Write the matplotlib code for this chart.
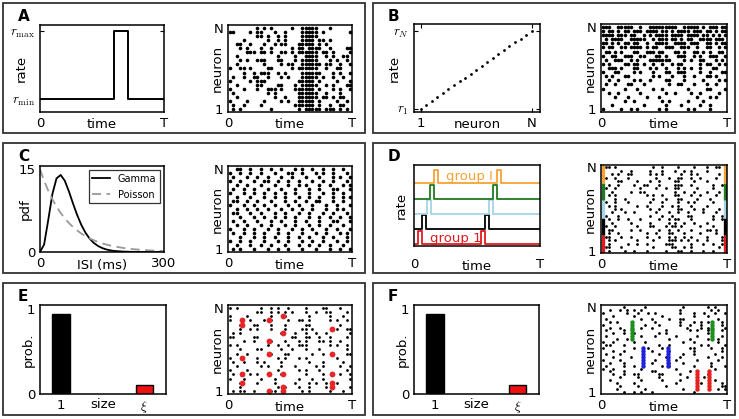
import matplotlib
matplotlib.use('Agg')
import matplotlib.pyplot as plt
from matplotlib.patches import Rectangle
from matplotlib.transforms import ScaledTranslation

plt.rcParams['mathtext.fontset'] = 'cm'
plt.rcParams['font.family'] = 'DejaVu Sans'
plt.rcParams['font.size'] = 9.5
plt.rcParams['axes.linewidth'] = 1.1

# ---- data ----
# A: rate profile with one pulse
a_time = [0.0, 0.595, 0.595, 0.707, 0.707, 1.0]
a_rate = [0.0, 0.0, 1.0, 1.0, 0.0, 0.0]
a_raster = [
    "........o.o.o.....o..ooooo...o......",
    "oo....o.oo...o..o....ooooo.o.......o",
    "........oo.o..o.o....ooooo..........",
    "....o......o..o.o....oooo.oo.o......",
    "..oo..o...o..o.oo...ooooo.o.o.......",
    "...o.o...o..o.....o.oo.oooo..o....oo",
    ".....ooo.oo.o..oo.o.oooooo.oo.o....o",
    "..o...........o....o..oooo..o.o..oo.",
    "...o.o..ooo...oo...o.ooooo...o.o..o.",
    "..o.......o....o.oo..oooooo.oo..o..o",
    "o..oo.o....oo.....o.oooooo..o..oo...",
    "....o..o.ooo..o.o....oooooo...o.o..o",
    ".o..o..oo..o...o.o...ooooo.o..o..o..",
    "o.....o.ooo.........ooooo.o....o...o",
    "..o.....oo....oo...o.ooooo..o.o...oo",
    "o...o...o..ooo.o...oooooo.o...o.o..o",
    ".o.........o.o......oooooo..o...o...",
    "..o..........o..o...oooooo.oo.o.oo..",
    "o....o....o....o.o..ooooo.o....o..o.",
    ".o..o....o.........oooooo.o..o..oo..",
    ".o.o........o.......o.ooooo.ooo.o.o.",
]

# B: rate grows with neuron index
b_neuron = [1, 2, 3, 4, 5, 6, 7, 8, 9, 10, 11, 12, 13, 14, 15, 16, 17, 18, 19, 20, 21]
b_rate = [1, 2, 3, 4, 5, 6, 7, 8, 9, 10, 11, 12, 13, 14, 15, 16, 17, 18, 19, 20, 21]
b_raster = [
    "ooo..ooooo..o..ooooooooo..ooooo.o.ooo.oo",
    "o.oo.o.oo.ooo.oooo.oo.o.oooo.ooo.oo.o.oo",
    "oooo.ooo.oo..o.o.oooo.oooo.oooo.oo.o.o.o",
    ".o.oooo..ooooo..o.ooo.oo.o.oo..oooo.ooo.",
    "oo.o.o.oo.oo..o..oooo..oooo.ooo..oo.o.oo",
    "o.oo..oo.oooo.o.oo..ooo..ooo..o..oo..o.o",
    ".oo.o.o...oo..ooo.oo...oo.o..oo.o.o..oo.",
    "o..oo..ooo..oo...oo.o...ooo..o.o..ooo..o",
    ".o..ooo..o.o...ooooooo....o.o..oo...o.o.",
    "o.o....oo.oo.o..o..o..o.oo.....o.oo..o.o",
    "..ooo.o...oo...o.o..o...o.o.o..o...oo...",
    "o...oo....o.o...o...oo..ooo....o..o...oo",
    ".o.o...oo.......o.o...o...o..o...oo.o...",
    "..o..o....o.o..o....oo....o.....o....o.o",
    ".o..o...oo...o.......o..oo...o...o..o...",
    "o......o...o....o..o.......o.....oo....o",
    "..o..o......o.......o..o....o..o.....o..",
    "....o...o.....o...o...........o...o.o...",
    ".......o..o........o.o.....o....o.......",
    "...o.........o......o....o.....o..o.....",
    "o.....o..o.o......o.o......o.o....o.....",
]

# C: ISI distributions (pdf x 1e-3)
c_isi = [0, 10, 20, 30, 40, 50, 60, 70, 80, 90, 100, 110, 120, 130, 140, 150,
         160, 170, 180, 200, 220, 250, 300]
c_gamma = [0.0, 1.36, 5.83, 10.53, 13.36, 13.97, 12.92, 10.98, 8.77, 6.69, 4.91,
           3.50, 2.43, 1.65, 1.11, 0.73, 0.47, 0.30, 0.19, 0.08, 0.03, 0.01, 0.0]
c_poisson = [15.0, 12.91, 11.11, 9.56, 8.23, 7.09, 6.10, 5.25, 4.52, 3.89, 3.35,
             2.88, 2.48, 2.14, 1.84, 1.58, 1.36, 1.17, 1.01, 0.75, 0.55, 0.35, 0.17]
c_raster = [
    "..oo..o..o..o..o...o.o..o..o..o..o..",
    "o..o..o..o...o...oo..o...o.o..o...o.",
    ".o...o..o..o...o..o...o...o...o.o..o",
    "o..o...o..oo..o..o..o...o..o..o...o.",
    "..o..o...o...o...o..o.o...o..o...o.o",
    ".o..o..o...o...o...o...o..o...oo...o",
    "o...o..o..o..o..o..o...o...o..o..o..",
    "..o...o...o..o..o...o..o..o...o..o.o",
    ".oo..o..o...o...o..o..o..oo...o..o..",
    "o...o..o..o..o...o..o...o...o..o...o",
    "..o..o..o..o...o..o..o..o...o..o.o..",
    ".oo...o..o...o..o...o..o...o..o...o.",
    "...o...o..o..o..o..o...o..o..o..o..o",
    ".o..o...o...o..o...o..o...o...oo...o",
    "..o..o...o..o...o..o...o..o..o...o..",
    "o...o..o...o..o...o..o..o...o..o...o",
    ".o..o..o..o...o..o...o...o..o...o.o.",
    "...o...o..o..o...o..o..o...o..o...o.",
    "o..o..o...o...o..o...o..o..o...o..o.",
    "..o...o..o..o...o...o..o..o..o...o..",
    ".o.o...o...o..o..o...o...o...o..o..o",
]

# D: groups with sequential pulses (group 1 at bottom)
d_colors = ['#e3191c', 'black', '#a6d3e6', '#1e7b1e', '#f7a234']
d_onsets = [[0.034, 0.530], [0.066, 0.562], [0.100, 0.597], [0.127, 0.624], [0.159, 0.658]]
d_width = 0.032
d_height = 0.9
d_raster = [
    ".oo.o...........o..o....o....o...o..oo..",
    "......o..o.....o...o...o..o.o....o......",
    "...o.o..oo.....o.o.o.....o..o.o......o..",
    ".o..o...o........o...o..oo..o..o....o...",
    "o....oo....o...o..o....oo....o...o......",
    "..o..o....o..oo...o....ooo..o......o..o.",
    ".o..o.......o....o..o..oo.....o....o....",
    "...o.....o..oo.........o..o..o...o...o..",
    "o.o.o.........o.o..o...oo...o..o....o..o",
    "....o..o........o...o...oo....o...o.....",
    ".o..o...o......o...o....o..o.o.....o...o",
    "..o.o......o..o....o..o.o...o....o.....o",
    "o...o.o........o..o.....oo...o..o....o..",
    "...o...o..o......o...o..o..o....o...o...",
    ".o...o.........o...o..o....oo......o..o.",
    "..o..o..o...o.....o..o.oo...o......o..o.",
    "o..o.....o.....o.....o.o..o..o...o......",
    ".o..o......o...oo...o.oo.o.....o...o....",
    "..oo.....o..o.....o..o..o...o....oo.o...",
    "o.o..o........o..o...oo...o....o....o..o",
    ".oo...o..o....o...o..o.o..o.o....o....o.",
    "..o.o......o....o....ooo.o.o..o..o....o.",
    "o.o.....o..o..o.....ooo.....o...o..o..o.",
    ".oo...o.........o.....oo..o.o........o..",
    "..o....o..o...o.....o...oo..o...o..o...o",
]

# E / F: pattern size distribution
size_labels = ['1', r'$\xi$']
e_prob = [0.94, 0.106]
f_prob = [0.94, 0.106]
e_raster = [
    "o.o......o..o.o..o....o....oo...o...",
    "........oo..o.o.o.o...o..o..oo....o.",
    "o....o......o...o......o.....o...o..",
    "o.....o...o.o....o..oo.o.....o.o..o.",
    "...o...oo...o...o.....oo........o...",
    "...o..o.o...o...o....oo.o......o..oo",
    ".o.o...........o...o..o..o..o......o",
    "oo.....oo.........oo..oo..o..o....o.",
    "....o..o....o...o...o.o...oo.o..o...",
    "o.o........o..o..o..ooo......o.o..o.",
    "...o....oo.....o..o...o...o.......o.",
    "..o..o......o...oo......o..o......oo",
    "o.......o.....o.o...o.o........o....",
    ".o..o...o.o....o.......o...o.....o..",
    "..o......o.o...o...o.....o.o....o..o",
    "o....o........o.....o.o...o.......o.",
    ".o....o.o..o...o......o....o....o..o",
    "o...o....o...o......o...o..o.......o",
    "...o....o....o.....o...o.o..o..o....",
    "...o..........o.o...o..o....o......o",
    ".o.oo..o....oo.......o.o.....o...o..",
]
# synchronous events: time (column units) and rows (counted from top)
e_event_times = [4.2, 11.9, 16.1, 30.1]
e_event_rows = [[3, 4, 12, 16, 18], [3, 8, 11, 16, 20], [2, 6, 16, 19, 20], [5, 11, 16, 18, 19]]

f_raster = [
    "......o.....o..........o......o.o...",
    "..o..o.o.o.o..........o........o.o..",
    "o......o..o..o.o......o...o..o..o..o",
    "...o.....o.......o........o...o.....",
    ".o.........o..o....o..oo.........o..",
    "..o.o..........o......o...o.o.o...o.",
    "o...........o...o.....o..o..o.....o.",
    "..o..o.....o..o.........o...o.o....o",
    ".o....o...........o......o.o..o...o.",
    "...o..o..o......o.o...........o.....",
    ".o.........o...o.....o.....o......o.",
    "....o..o...........o.....o....o..o..",
    "o..o.....o..o..........o..o......o..",
    ".oo...o.........o..o........o.o....o",
    "o........o...o...o.......oo....o..o.",
    "...o..o.......o....o......o.......o.",
    ".o...o..........o......o..o.....o...",
    "...o....o.........o...o.......o...o.",
    "o....o.........o.....o.....o.....o..",
    "..o...o.......o....o...o.......o....",
    ".o....o..o.......o.o......o....o...o",
    "o..o.......o.........o..........o...",
    "..o...o.......oo.........o..........",
    "...o..o..oo.....oo....o.......o.....",
    ".....o....o.....o.......o....o......",
    "..o........o.....o....o.........o...",
    "....o....o...........o......o.....o.",
    ".....o....o.......o...............oo",
    "....o.......o..........o.........o.o",
    "......o..o.o..o...........o.........",
]
f_group_colors = ['#1f8f1f', '#2020dd', '#e82020']
f_group_times = [[8.9, 31.7], [12.0, 19.1], [27.4, 30.8]]
f_group_rows = [[5, 6, 7, 8, 9, 10, 11], [14, 15, 16, 17, 18, 19, 20], [22, 23, 24, 25, 26, 27, 28]]

# ---- layout ----
W, H = 739, 419
fig = plt.figure(figsize=(W / 100, H / 100), dpi=100)


def add_ax(x0, y0, x1, y1):
    return fig.add_axes([x0 / W, 1 - y1 / H, (x1 - x0) / W, (y1 - y0) / H])


def panel(x0, y0, x1, y1, letter):
    fig.add_artist(Rectangle((x0 / W, 1 - y1 / H), (x1 - x0) / W, (y1 - y0) / H,
                             transform=fig.transFigure, fill=False, ec='#333333', lw=1.3))
    fig.text((x0 + 15) / W, 1 - (y0 + 6) / H, letter, fontsize=11, fontweight='bold',
             ha='left', va='top')


def labels(ax, xl, yl, dy=13, dx=11):
    tx = ax.transAxes + ScaledTranslation(0, -dy / 100, fig.dpi_scale_trans)
    ty = ax.transAxes + ScaledTranslation(-dx / 100, 0, fig.dpi_scale_trans)
    ax.text(0.5, 0, xl, transform=tx, ha='center', va='center')
    ax.text(0, 0.5, yl, transform=ty, ha='center', va='center', rotation=90)


def raster(ax, rows, ncols, ms=2.6):
    n = len(rows)
    xs, ys = [], []
    for i, row in enumerate(rows):
        for j, c in enumerate(row):
            if c == 'o':
                xs.append(j + 0.5)
                ys.append(n - i)
    ax.plot(xs, ys, 'o', color='black', ms=ms, mew=0)
    ax.set_xlim(0, ncols)
    ax.set_ylim(0.3, n + 0.7)
    ax.set_xticks([0, ncols])
    ax.set_xticklabels(['0', 'T'])
    ax.set_yticks([1, n])
    ax.set_yticklabels(['1', 'N'])
    ax.tick_params(length=0)
    labels(ax, 'time', 'neuron', dy=13, dx=11)
    return n


panel(3, 3, 365, 133, 'A')
panel(373, 3, 735, 133, 'B')
panel(3, 143, 365, 273, 'C')
panel(373, 143, 735, 273, 'D')
panel(3, 283, 365, 415, 'E')
panel(373, 283, 735, 415, 'F')

# A
ax = add_ax(40, 25, 164, 112)
ax.plot(a_time, a_rate, color='black', lw=1.4)
ax.set_xlim(0, 1)
ax.set_ylim(-0.186, 1.089)
ax.set_xticks([0, 1])
ax.set_xticklabels(['0', 'T'])
ax.set_yticks([0, 1])
ax.set_yticklabels([r'$r_{\rm min}$', r'$r_{\rm max}$'])
ax.tick_params(direction='in', length=3, right=True, top=True)
ax.tick_params(axis='x', length=0)
labels(ax, 'time', 'rate', dy=13, dx=19)

ax = add_ax(228, 25, 352, 112)
raster(ax, a_raster, 36)

# B
ax = add_ax(414, 24, 540, 112)
ax.plot(b_neuron, b_rate, 'o', color='black', ms=2.0, mew=0)
ax.set_xlim(-0.2, 22.5)
ax.set_ylim(0.14, 22.74)
ax.set_xticks([1, 21])
ax.set_xticklabels(['1', 'N'])
ax.set_yticks([1, 21])
ax.set_yticklabels([r'$r_1$', r'$r_N$'])
ax.tick_params(direction='in', length=3, right=True, top=True)
labels(ax, 'neuron', 'rate', dy=13, dx=20)

ax = add_ax(601, 24, 727, 112)
raster(ax, b_raster, 40, ms=2.6)

# C
ax = add_ax(40, 166, 164, 252)
ax.plot(c_isi, c_gamma, color='black', lw=1.3, label='Gamma')
ax.plot(c_isi, c_poisson, color='#999999', lw=1.3, dashes=(5, 3), label='Poisson')
ax.set_xlim(0, 300)
ax.set_ylim(0, 15.6)
ax.set_xticks([0, 300])
ax.set_yticks([0, 15])
ax.tick_params(length=0)
leg = ax.legend(loc='upper right', fontsize=7, handlelength=1.8, frameon=True,
                fancybox=False, borderaxespad=0.4, labelspacing=0.6)
leg.get_frame().set_edgecolor('black')
leg.get_frame().set_linewidth(0.9)
labels(ax, 'ISI (ms)', 'pdf', dy=13, dx=15)

ax = add_ax(228, 166, 352, 252)
raster(ax, c_raster, 36)

# D
ax = add_ax(414, 165, 540, 246)
for g, (col, ons) in enumerate(zip(d_colors, d_onsets)):
    xs, ys = [0.0], [g]
    for on in ons:
        xs += [on, on, on + d_width, on + d_width]
        ys += [g, g + d_height, g + d_height, g]
    xs.append(1.0)
    ys.append(g)
    ax.plot(xs, ys, color=col, lw=1.3)
ax.text(0.44, 4.45, 'group I', color=d_colors[4], ha='center', va='center', fontsize=9.5)
ax.text(0.33, 0.40, 'group 1', color=d_colors[0], ha='center', va='center', fontsize=9.5)
ax.set_xlim(0, 1)
ax.set_ylim(-0.1, 5.2)
ax.set_xticks([0, 1])
ax.set_xticklabels(['0', 'T'])
ax.set_yticks([])
ax.tick_params(length=0, pad=9)
labels(ax, 'time', 'rate', dy=20, dx=13)

ax = add_ax(601, 165, 727, 253)
raster(ax, d_raster, 40, ms=2.0)
for g, col in enumerate(d_colors):
    for xe in (0.016, 0.982):
        ax.plot([xe, xe], [g / 5, (g + 1) / 5], transform=ax.transAxes, color=col,
                lw=2.4, solid_capstyle='butt')

# E and F bars
for x0, x1, probs in ((40, 166, e_prob), (414, 539, f_prob)):
    ax = add_ax(x0, 305, x1, 394)
    ax.bar([0, 1], probs, width=0.21, color=['black', '#ee1111'], edgecolor='black', lw=1)
    ax.set_xlim(-0.253, 1.26)
    ax.set_ylim(0, 1.05)
    ax.set_xticks([0, 1])
    ax.set_xticklabels(size_labels)
    ax.set_yticks([0, 1])
    ax.tick_params(length=0)
    labels(ax, 'size', 'prob.', dy=10, dx=12)

# E raster
ax = add_ax(228, 305, 352, 394)
n = raster(ax, e_raster, 36, ms=2.0)
for t, rows in zip(e_event_times, e_event_rows):
    ax.plot([t] * len(rows), [n - r for r in rows], 'o', color='#e8262a', ms=4.2, mew=0)

# F raster
ax = add_ax(601, 305, 727, 394)
n = raster(ax, f_raster, 36, ms=2.0)
for col, times, rows in zip(f_group_colors, f_group_times, f_group_rows):
    for t in times:
        ax.plot([t] * len(rows), [n - r for r in rows], 'o', color=col, ms=3.2, mew=0)

fig.savefig('out.png', dpi=100)
